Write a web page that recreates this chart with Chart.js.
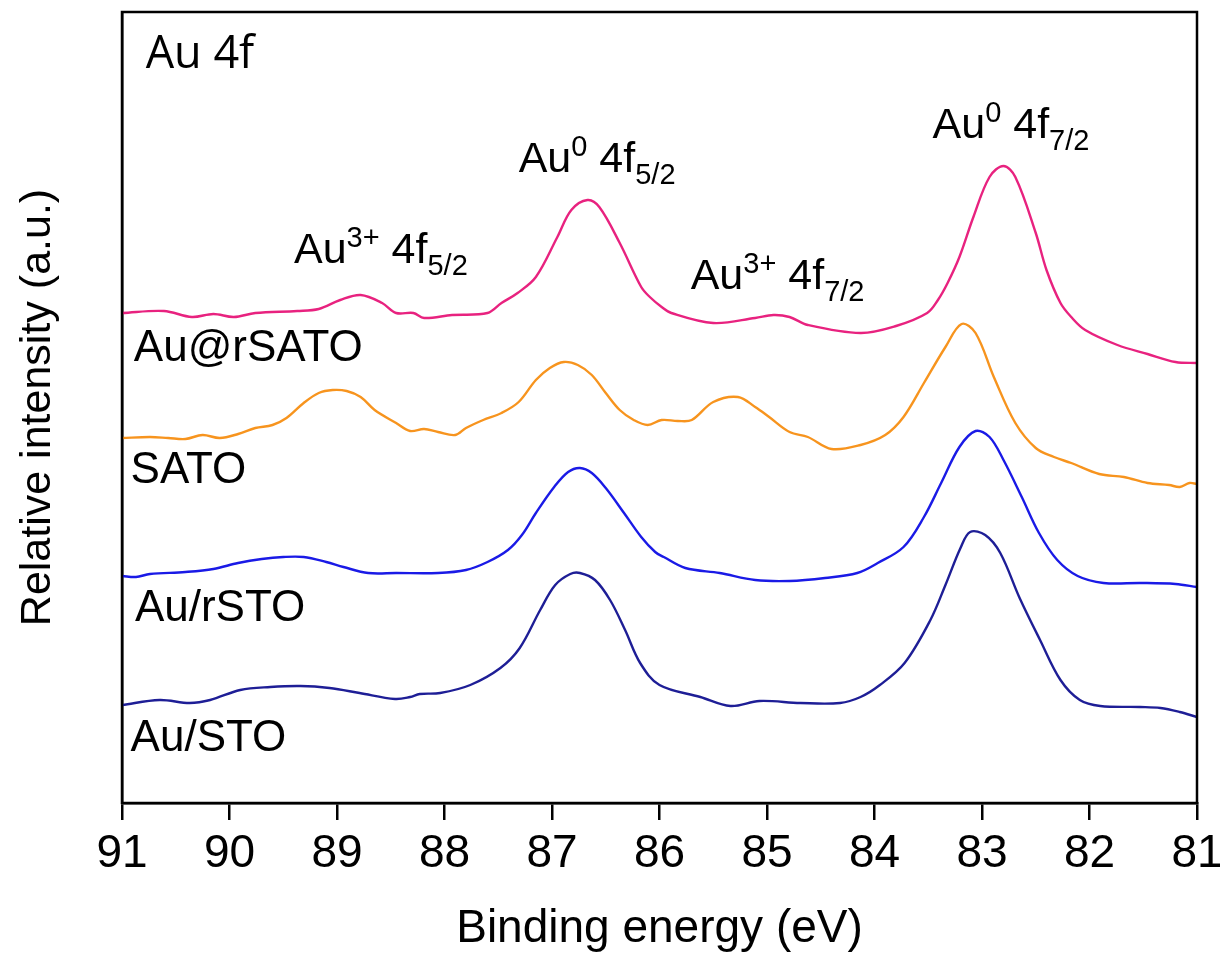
<!DOCTYPE html>
<html>
<head>
<meta charset="utf-8">
<script src="https://cdn.jsdelivr.net/npm/chart.js@4/dist/chart.umd.min.js"></script>
<style>
  html, body { margin: 0; padding: 0; background: #fff; }
  #wrap { width: 1220px; height: 957px; }
</style>
</head>
<body>
<div id="wrap"><canvas id="xpsChart" width="1220" height="957"></canvas></div>
<script>
// Au 4f XPS spectra (binding energy in eV, intensity in a.u.)
const auRSATOEnergy = [91.00, 90.61, 90.35, 90.15, 89.96, 89.76, 89.37, 89.17, 88.97, 88.78, 88.58, 88.45, 88.29, 88.19, 87.93, 87.60, 87.47, 87.32, 87.15, 86.95, 86.82, 86.67, 86.56, 86.37, 86.17, 86.09, 85.98, 85.89, 85.50, 85.11, 84.94, 84.79, 84.62, 84.13, 83.80, 83.51, 83.41, 83.32, 83.21, 83.08, 82.93, 82.80, 82.69, 82.50, 82.40, 82.27, 82.17, 82.04, 81.74, 81.46, 81.20, 81.00];
const auRSATOIntensity = [490, 492, 486, 489, 486, 490, 492, 494, 503, 508, 500, 490, 490, 485, 488, 490, 500, 510, 526, 566, 593, 603, 596, 560, 516, 506, 496, 490, 480, 485, 488, 486, 478, 470, 477, 490, 503, 520, 546, 586, 626, 637, 626, 570, 533, 500, 486, 473, 458, 449, 441, 440];

const sATOEnergy = [91.00, 90.74, 90.57, 90.41, 90.25, 90.09, 89.92, 89.76, 89.60, 89.47, 89.31, 89.17, 89.04, 88.91, 88.78, 88.65, 88.45, 88.32, 88.19, 88.06, 87.90, 87.80, 87.64, 87.47, 87.31, 87.15, 87.02, 86.89, 86.76, 86.63, 86.50, 86.37, 86.24, 86.11, 85.98, 85.83, 85.70, 85.50, 85.27, 85.11, 84.98, 84.79, 84.62, 84.40, 84.13, 83.90, 83.73, 83.54, 83.34, 83.19, 83.06, 82.89, 82.69, 82.50, 82.33, 82.17, 81.91, 81.68, 81.46, 81.26, 81.16, 81.07, 81.00];
const sATOIntensity = [365, 366, 365, 364, 368, 365, 369, 375, 378, 385, 400, 410, 413, 412, 406, 393, 380, 372, 374, 371, 368, 375, 383, 390, 401, 423, 435, 441, 438, 428, 410, 393, 383, 378, 383, 382, 383, 401, 406, 396, 386, 371, 366, 354, 358, 368, 386, 420, 456, 479, 470, 426, 380, 355, 346, 340, 329, 326, 320, 318, 316, 320, 319];

const auRSTOEnergy = [91.00, 90.87, 90.74, 90.41, 90.15, 89.92, 89.70, 89.50, 89.31, 89.10, 88.94, 88.71, 88.45, 88.06, 87.80, 87.60, 87.41, 87.28, 87.15, 86.98, 86.85, 86.74, 86.63, 86.50, 86.33, 86.17, 86.04, 85.96, 85.76, 85.44, 85.11, 84.79, 84.46, 84.16, 83.97, 83.73, 83.54, 83.38, 83.21, 83.06, 82.93, 82.80, 82.63, 82.47, 82.30, 82.11, 81.87, 81.52, 81.20, 81.00];
const auRSTOIntensity = [227, 226, 229, 231, 234, 240, 244, 246, 246, 241, 236, 230, 230, 230, 233, 241, 253, 268, 290, 316, 331, 335, 330, 315, 290, 266, 251, 246, 235, 230, 223, 222, 225, 230, 240, 256, 286, 320, 356, 372, 366, 343, 306, 270, 243, 227, 220, 220, 219, 216];

const auSTOEnergy = [91.00, 90.65, 90.37, 90.18, 89.90, 89.62, 89.34, 89.07, 88.79, 88.46, 88.32, 88.23, 88.04, 87.76, 87.48, 87.30, 87.11, 86.97, 86.83, 86.74, 86.60, 86.46, 86.32, 86.18, 86.00, 85.62, 85.34, 85.07, 84.69, 84.32, 84.13, 83.95, 83.72, 83.48, 83.34, 83.20, 83.11, 82.97, 82.83, 82.65, 82.46, 82.27, 82.09, 81.90, 81.53, 81.34, 81.16, 81.00];
const auSTOIntensity = [98, 103, 100, 103, 113, 116, 117, 115, 110, 104, 106, 109, 110, 118, 135, 155, 193, 218, 229, 230, 223, 203, 173, 140, 118, 106, 97, 102, 100, 100, 106, 118, 140, 183, 218, 255, 271, 268, 250, 205, 163, 123, 103, 97, 96, 95, 91, 86];

const sampleNames = ['Au@rSATO', 'SATO', 'Au/rSTO', 'Au/STO'];
const sampleColors = ['#E8227F', '#F7941E', '#1A1AE6', '#1E1E96'];

// where the in-plot captions sit, in data units (energy, intensity at text baseline)
const sampleLabelPos = [[90.89, 442], [90.92, 320], [90.88, 182], [90.92, 52]];
const peakLabels = [
    { e: 89.40, i: 540, parts: [['Au', 'n'], ['3+', 'sup'], [' 4f', 'n'], ['5/2', 'sub']] },
    { e: 87.31, i: 631, parts: [['Au', 'n'], ['0', 'sup'], [' 4f', 'n'], ['5/2', 'sub']] },
    { e: 85.71, i: 514, parts: [['Au', 'n'], ['3+', 'sup'], [' 4f', 'n'], ['7/2', 'sub']] },
    { e: 83.46, i: 665, parts: [['Au', 'n'], ['0', 'sup'], [' 4f', 'n'], ['7/2', 'sub']] }
];

const FONT = '"Liberation Sans", Arial, sans-serif';

function toPoints(xs, ys) {
    return xs.map((x, i) => ({ x: x, y: ys[i] }));
}

const seriesData = [
    toPoints(auRSATOEnergy, auRSATOIntensity),
    toPoints(sATOEnergy, sATOIntensity),
    toPoints(auRSTOEnergy, auRSTOIntensity),
    toPoints(auSTOEnergy, auSTOIntensity)
];

function drawRich(ctx, x, y, parts) {
    parts.forEach(([t, kind]) => {
        const small = kind !== 'n';
        ctx.font = (small ? 29 : 43) + 'px ' + FONT;
        let dy = 0;
        if (kind === 'sup') dy = -16;
        if (kind === 'sub') dy = 12;
        ctx.fillText(t, x, y + dy);
        x += ctx.measureText(t).width;
    });
}

const decorations = {
    id: 'decorations',
    afterDraw(chart) {
        const { ctx, chartArea, scales } = chart;
        const xs = scales.x, ys = scales.y;
        ctx.save();
        // closed frame
        ctx.strokeStyle = '#000';
        ctx.lineWidth = 2.5;
        ctx.strokeRect(chartArea.left, chartArea.top, chartArea.right - chartArea.left, chartArea.bottom - chartArea.top);

        ctx.fillStyle = '#000';
        ctx.textBaseline = 'alphabetic';
        ctx.textAlign = 'left';

        ctx.font = '45px "Open Sans", ' + FONT;
        ctx.fillText('Au 4f', xs.getPixelForValue(90.78), ys.getPixelForValue(735));

        ctx.font = '44px ' + FONT;
        sampleNames.forEach((name, k) => {
            const p = sampleLabelPos[k];
            ctx.fillText(name, xs.getPixelForValue(p[0]), ys.getPixelForValue(p[1]));
        });

        peakLabels.forEach(l => {
            drawRich(ctx, xs.getPixelForValue(l.e), ys.getPixelForValue(l.i), l.parts);
        });
        ctx.restore();
    }
};

const ctx = document.getElementById('xpsChart');

new Chart(ctx, {
    type: 'line',
    data: {
        datasets: seriesData.map((d, k) => ({
            label: sampleNames[k],
            data: d,
            borderColor: sampleColors[k],
            borderWidth: 2.4,
            pointRadius: 0,
            fill: false,
            tension: 0.35
        }))
    },
    options: {
        responsive: false,
        animation: false,
        layout: { padding: { top: 12, right: 23, left: 0, bottom: 0 } },
        plugins: {
            legend: { display: false },
            tooltip: { enabled: false }
        },
        scales: {
            x: {
                type: 'linear',
                min: 81,
                max: 91,
                reverse: true,
                afterFit(scale) {
                    scale.height = 154;
                    scale.paddingLeft = 0;
                    scale.paddingRight = 0;
                },
                ticks: {
                    stepSize: 1,
                    color: '#000',
                    padding: 7,
                    font: { family: FONT, size: 46 }
                },
                grid: {
                    drawOnChartArea: false,
                    drawTicks: true,
                    tickLength: 17,
                    color: '#000',
                    lineWidth: 2.5
                },
                border: { display: true, color: '#000', width: 2.5 },
                title: {
                    display: true,
                    text: 'Binding energy (eV)',
                    color: '#000',
                    font: { family: FONT, size: 46 },
                    padding: { top: 0, bottom: 0 }
                }
            },
            y: {
                min: 0,
                max: 791,
                afterFit(scale) { scale.width = 122; },
                ticks: { display: false },
                grid: { display: false },
                border: { display: true, color: '#000', width: 2.5 },
                title: {
                    display: true,
                    text: 'Relative intensity (a.u.)',
                    color: '#000',
                    font: { family: FONT, size: 43 },
                    padding: { top: 12, bottom: 0 }
                }
            }
        }
    },
    plugins: [decorations]
});
</script>
</body>
</html>
